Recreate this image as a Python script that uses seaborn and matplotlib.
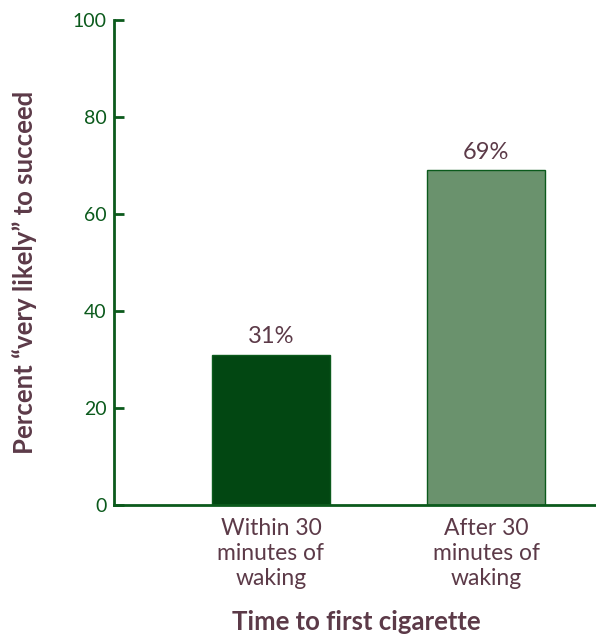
import matplotlib
matplotlib.use("Agg")
import matplotlib.pyplot as plt
import pandas as pd
import seaborn as sns

categories = ["Within 30\nminutes of\nwaking", "After 30\nminutes of\nwaking"]
percents = [31, 69]
value_labels = ["31%", "69%"]
y_ticks = [0, 20, 40, 60, 80, 100]

DARK = "#024712"
LIGHT = "#6a926d"
AXIS_GREEN = "#0b5a1c"
TEXT = "#5c3a48"


def main():
    sns.set_theme(style="white")
    plt.rcParams["font.family"] = ["Lato", "DejaVu Sans"]

    df = pd.DataFrame({"timing": categories, "percent": percents})

    fig = plt.figure(figsize=(5.96, 6.37), dpi=100)
    ax = fig.add_axes([0.191, 0.207, 0.809, 0.762])

    sns.barplot(data=df, x="timing", y="percent", hue="timing",
                palette=[DARK, LIGHT], width=0.55, saturation=1, legend=False,
                ax=ax, edgecolor=AXIS_GREEN, linewidth=1.0)

    for patch, label in zip(ax.patches, value_labels):
        ax.text(patch.get_x() + patch.get_width() / 2, patch.get_height() + 1.5,
                label, ha="center", va="bottom", fontsize=17, color=TEXT)

    ax.set_xlim(-0.73, 1.51)
    ax.set_ylim(0, 100)
    ax.set_yticks(y_ticks)
    ax.tick_params(axis="y", direction="in", length=7, width=2, colors=AXIS_GREEN,
                   labelsize=14, pad=5, left=True)
    ax.tick_params(axis="x", length=0, labelsize=16.5, labelcolor=TEXT, pad=9)
    for lbl in ax.get_xticklabels():
        lbl.set_linespacing(1.25)
    for side in ["top", "right"]:
        ax.spines[side].set_visible(False)
    for side in ["left", "bottom"]:
        ax.spines[side].set_color(AXIS_GREEN)
        ax.spines[side].set_linewidth(2)

    ax.set_xlabel("Time to first cigarette", fontsize=18.5, fontweight="bold",
                  color=TEXT)
    ax.xaxis.set_label_coords(0.502, -0.215)
    ax.set_ylabel("Percent \u201cvery likely\u201d to succeed", fontsize=18.5,
                  fontweight="bold", color=TEXT)
    ax.yaxis.set_label_coords(-0.16, 0.48)

    fig.savefig("out.png", dpi=100)
    plt.close(fig)


if __name__ == "__main__":
    main()
